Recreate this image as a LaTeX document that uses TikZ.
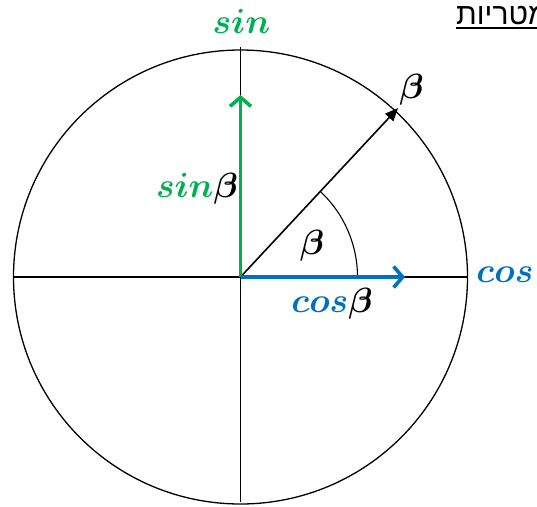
\RequirePackage{fix-cm}
\documentclass[tikz,border=0pt]{standalone}
\usepackage{amsmath,amssymb}
\usepackage{fontspec}
\newfontfamily\hebfont[Script=Hebrew]{Liberation Sans}
\TeXXeTstate=1
\usetikzlibrary{arrows.meta,calc}
\definecolor{sgreen}{RGB}{0,176,80}
\definecolor{cblue}{RGB}{0,112,192}

\begin{document}
\begin{tikzpicture}[x=1pt,y=1pt,
  >=Latex,
  axis/.style={line width=1.3pt},
  comp/.style={line width=3.6pt,-{Straight Barb[length=9pt,width=21pt,line width=3.6pt]}},
  lbl/.style={font=\fontsize{35}{37}\selectfont\boldmath,inner sep=0pt}
]
  \useasboundingbox (0,0) rectangle (537,-506);
  \coordinate (O) at (240.5,-277);
  \coordinate (W) at (14,-277);
  \coordinate (E) at (467,-277);
  \coordinate (N) at (240.5,-47);
  \coordinate (S) at (240.5,-502);

  % unit circle and axes
  \draw[axis] (O) circle (227);
  \draw[axis] (W) -- (E);
  \draw[axis] (N) -- (S);

  % angle
  \coordinate (A0) at ($(O)+(0:117)$);
  \draw[line width=1.1pt] (A0) arc[start angle=0,end angle=47,radius=117];

  % vector and its components
  \coordinate (vTip) at ($(O)+(47:231)$);
  \coordinate (sinTip) at (240.5,-95);
  \coordinate (cosTip) at (405,-277);
  \draw[line width=1.6pt,-{Triangle[length=13pt,width=11pt]}] (O) -- (vTip);
  \draw[comp,sgreen] (O) -- (sinTip);
  \draw[comp,cblue] (O) -- (cosTip);

  \node[lbl,sgreen] (sinAx) at (241.5,-21) {$sin$};
  \node[lbl,cblue] (cosAx) at (505,-274.5) {$cos$};
  \node[lbl] (sinB) at (197,-189) {$\color{sgreen}sin\color{black}\beta$};
  \node[lbl] (cosB) at (332,-304) {$\color{cblue}cos\color{black}\beta$};
  \node[lbl] (betaA) at (312,-246) {$\beta$};
  \node[lbl] (betaV) at (411.5,-90) {$\beta$};

  \node[font=\hebfont\fontsize{30}{32}\selectfont,anchor=base west,inner sep=0pt] (heb) at (456,-24) {\beginR מטריות\endR};
  \draw[line width=2pt] ([yshift=-3.5pt]heb.base west) -- ([yshift=-3.5pt]heb.base east);
\end{tikzpicture}
\end{document}
